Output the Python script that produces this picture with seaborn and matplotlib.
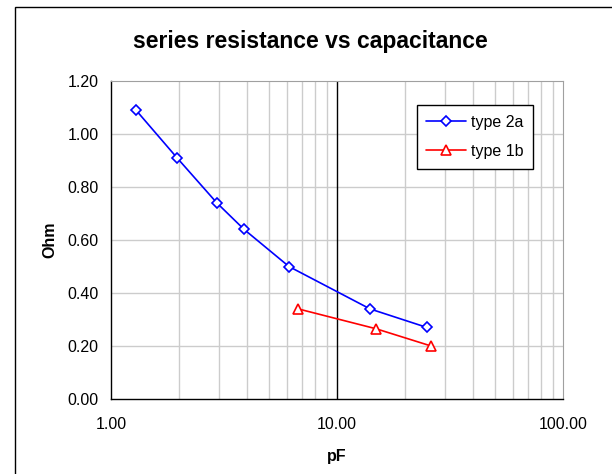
import matplotlib
matplotlib.use("Agg")
import matplotlib.pyplot as plt
import numpy as np
import pandas as pd
import seaborn as sns
from matplotlib.patches import Rectangle
from matplotlib.ticker import FixedLocator, FuncFormatter, NullFormatter

# values
pf_2a = [1.29, 1.96, 2.94, 3.88, 6.13, 14.0, 25.0]
ohm_2a = [1.09, 0.91, 0.74, 0.64, 0.50, 0.34, 0.27]
pf_1b = [6.74, 14.9, 26.1]
ohm_1b = [0.34, 0.265, 0.20]

y_ticks = [0.0, 0.2, 0.4, 0.6, 0.8, 1.0, 1.2]
x_major = [1, 10, 100]
x_minor = [2, 3, 4, 5, 6, 7, 8, 9, 20, 30, 40, 50, 60, 70, 80, 90]

sns.set_style("white")
plt.rcParams["font.family"] = ["Liberation Sans", "DejaVu Sans"]
plt.rcParams.update({"text.color": "black", "axes.labelcolor": "black",
                     "xtick.color": "black", "ytick.color": "black"})

df_2a = pd.DataFrame({"pF": pf_2a, "Ohm": ohm_2a})
df_1b = pd.DataFrame({"pF": pf_1b, "Ohm": ohm_1b})

fig = plt.figure(figsize=(6.12, 4.74), dpi=100, facecolor="white")
ax = fig.add_axes([0.1814, 0.1582, 0.7385, 0.6709])

sns.lineplot(data=df_2a, x="pF", y="Ohm", ax=ax, color="#0000ff", lw=1.2,
             marker="D", ms=5, mfc="white", mec="#0000ff", mew=1.2,
             label="type 2a", legend=False)
sns.lineplot(data=df_1b, x="pF", y="Ohm", ax=ax, color="#ff0000", lw=1.2,
             marker="^", ms=7, mfc="white", mec="#ff0000", mew=1.2,
             label="type 1b", legend=False)

ax.set_xscale("log")
ax.set_xlim(1, 100)
ax.set_ylim(0, 1.2)
ax.xaxis.set_major_locator(FixedLocator(x_major))
ax.xaxis.set_minor_locator(FixedLocator(x_minor))
ax.xaxis.set_major_formatter(FuncFormatter(lambda v, p: f"{v:.2f}"))
ax.xaxis.set_minor_formatter(NullFormatter())
ax.set_yticks(y_ticks)
ax.yaxis.set_major_formatter(FuncFormatter(lambda v, p: f"{v:.2f}"))

# grid: light gray minor verticals and horizontals, black at 10
ax.grid(False)
for v in x_minor:
    ax.axvline(v, color="#cccccc", lw=1, zorder=0.5)
for v in y_ticks[1:-1]:
    ax.axhline(v, color="#cccccc", lw=1, zorder=0.5)
ax.axvline(10, color="black", lw=1, zorder=0.6)

for side in ["top", "right"]:
    ax.spines[side].set_color("#a0a0a0")
for side in ["left", "bottom"]:
    ax.spines[side].set_color("black")
    ax.spines[side].set_linewidth(1)

ax.tick_params(axis="both", which="major", direction="out", length=5,
               width=1, color="black", labelsize=11.5, pad=4)
ax.tick_params(axis="x", which="minor", length=0)
ax.tick_params(axis="x", which="major", pad=8)

ax.set_xlabel("pF", fontsize=11.5, fontweight="bold", labelpad=12)
ax.set_ylabel("Ohm", fontsize=11.5, fontweight="bold", labelpad=7)
fig.text(0.507, 0.913, "series resistance vs capacitance", ha="center",
         va="center", fontsize=16.5, fontweight="bold")

leg = ax.legend(loc="upper right", bbox_to_anchor=(0.934, 0.9245),
                fontsize=11.5, frameon=True, fancybox=False, framealpha=1,
                edgecolor="black", handlelength=2.5, handletextpad=0.3,
                labelspacing=0.9, borderpad=0.6, borderaxespad=0)
leg.get_frame().set_linewidth(1)

# outer chart border like the spreadsheet chart area
fig.patches.append(Rectangle((15 / 612, -0.02), 1.0, (474 - 7) / 474 + 0.02,
                             transform=fig.transFigure, fill=False,
                             edgecolor="black", lw=1))

fig.savefig("out.png", dpi=100, facecolor="white")
